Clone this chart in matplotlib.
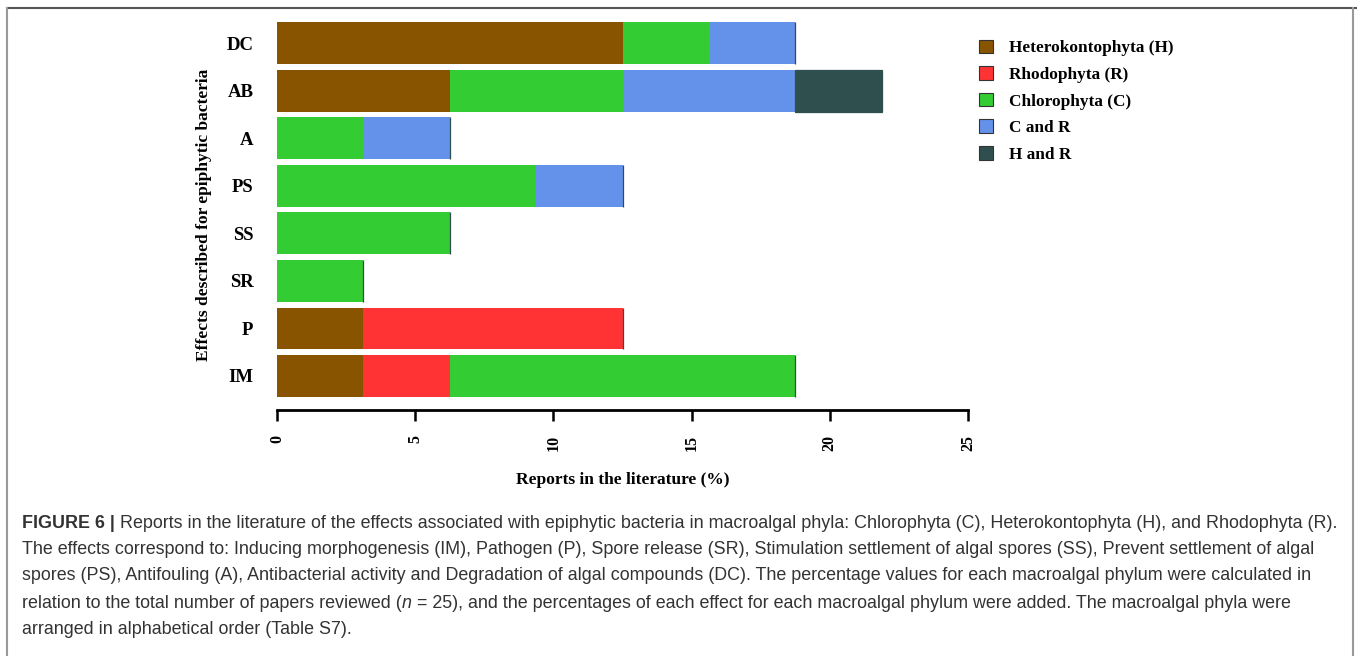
import numpy as np
import matplotlib
matplotlib.use("Agg")
import matplotlib.pyplot as plt
from matplotlib.patches import Patch
from matplotlib.lines import Line2D

# effects (bottom to top) and stacked percentages per phylum group
effects = ['IM', 'P', 'SR', 'SS', 'PS', 'A', 'AB', 'DC']
heterokontophyta = [3.125, 3.125, 0, 0, 0, 0, 6.25, 12.5]
rhodophyta = [3.125, 9.375, 0, 0, 0, 0, 0, 0]
chlorophyta = [12.5, 0, 3.125, 6.25, 9.375, 3.125, 6.25, 3.125]
c_and_r = [0, 0, 0, 0, 3.125, 3.125, 6.25, 3.125]
h_and_r = [0, 0, 0, 0, 0, 0, 3.125, 0]

series_names = ['Heterokontophyta (H)', 'Rhodophyta (R)', 'Chlorophyta (C)',
                'C and R', 'H and R']
series_colors = ['#885400', '#FF3333', '#33CC33', '#6492EA', '#2F4F4F']
xticks = [0, 5, 10, 15, 20, 25]

W, H = 1357, 656
fig = plt.figure(figsize=(W / 100, H / 100), dpi=100)
serif = ['Liberation Serif', 'DejaVu Serif']

# axes placed by pixel
x0, x1 = 277, 968
ytop, ybot = 20, 410
ax = fig.add_axes([x0 / W, 1 - ybot / H, (x1 - x0) / W, (ybot - ytop) / H])

ypos = np.arange(len(effects))
left = np.zeros(len(effects))
all_series = [heterokontophyta, rhodophyta, chlorophyta, c_and_r, h_and_r]
for vals, col, name in zip(all_series, series_colors, series_names):
    vals = np.array(vals)
    if name == 'H and R':
        ax.barh(ypos, vals, left=left, height=0.88, color=col,
                edgecolor='#2F4F4F', linewidth=0.9)
    else:
        ax.barh(ypos, vals, left=left, height=0.88, color=col, linewidth=0)
    left += vals

ax.set_xlim(0, 25)
ax.set_ylim(-0.715, 7.485)
for s in ['top', 'right', 'left']:
    ax.spines[s].set_visible(False)
ax.spines['bottom'].set_linewidth(2.0)
ax.set_xticks(xticks)
ax.set_xticklabels([str(t) for t in xticks], rotation=90, fontfamily=serif,
                   fontweight='bold', fontsize=11.5)
ax.tick_params(axis='x', length=8, width=1.8, pad=10)
ax.set_yticks(ypos)
ax.set_yticklabels(effects, fontfamily=serif, fontweight='bold', fontsize=13.5)
ax.tick_params(axis='y', length=0, pad=17)
ax.set_xlabel('Reports in the literature (%)', fontfamily=serif,
              fontweight='bold', fontsize=12.5, labelpad=15)
ax.set_ylabel('Effects described for epiphytic bacteria', fontfamily=serif,
              fontweight='bold', fontsize=12.5, labelpad=10)

handles = [Patch(facecolor=c, edgecolor='#333333', linewidth=0.8) for c in series_colors]
fig.legend(handles, series_names, loc='upper left',
           bbox_to_anchor=(963 / W, 1 - 24 / H), frameon=False,
           prop={'family': serif, 'weight': 'bold', 'size': 12.4},
           handlelength=0.82, handleheight=0.82, handletextpad=0.95,
           labelspacing=0.58)

# frame lines
fig.add_artist(Line2D([7 / W, 1], [1 - 8 / H, 1 - 8 / H], color='#555555', lw=1.5))
fig.add_artist(Line2D([7 / W, 7 / W], [0, 1 - 8 / H], color='#999999', lw=1.5))
fig.add_artist(Line2D([1353 / W, 1353 / W], [0, 1 - 8 / H], color='#999999', lw=1.5))

# caption, drawn as runs of differently styled text
cap_font = ['Liberation Sans', 'DejaVu Sans']
cap_size = 12.85
cap_color = '#333333'
lines = [
    [('FIGURE 6 | ', 'bold', 'normal'),
     ('Reports in the literature of the effects associated with epiphytic bacteria in macroalgal phyla: '
      'Chlorophyta (C), Heterokontophyta (H), and Rhodophyta (R).', 'normal', 'normal')],
    [('The effects correspond to: Inducing morphogenesis (IM), Pathogen (P), Spore release (SR), '
      'Stimulation settlement of algal spores (SS), Prevent settlement of algal', 'normal', 'normal')],
    [('spores (PS), Antifouling (A), Antibacterial activity and Degradation of algal compounds (DC). '
      'The percentage values for each macroalgal phylum were calculated in', 'normal', 'normal')],
    [('relation to the total number of papers reviewed (', 'normal', 'normal'),
     ('n', 'normal', 'italic'),
     (' = 25), and the percentages of each effect for each macroalgal phylum were added. '
      'The macroalgal phyla were', 'normal', 'normal')],
    [('arranged in alphabetical order (Table S7).', 'normal', 'normal')],
]
line_y = [523, 549, 576, 603, 630]
renderer = fig.canvas.get_renderer()
for runs, yy in zip(lines, line_y):
    xx = 22
    for txt, wt, st in runs:
        t = fig.text(xx / W, 1 - yy / H, txt, fontfamily=cap_font, fontsize=cap_size,
                     fontweight=wt, fontstyle=st, color=cap_color, va='center', ha='left')
        bb = t.get_window_extent(renderer=renderer)
        xx += bb.width

fig.savefig('out.png', dpi=100)
